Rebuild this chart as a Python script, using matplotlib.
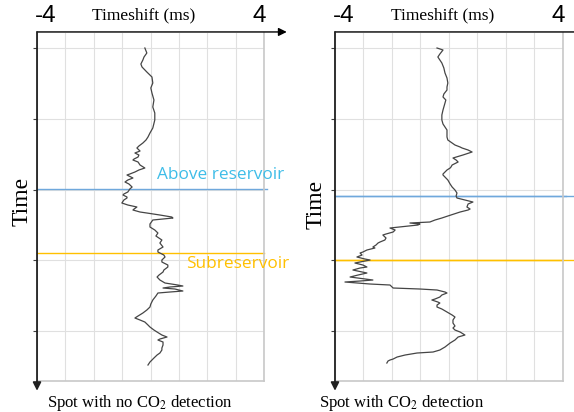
import matplotlib.pyplot as plt

plt.rcParams['mathtext.fontset'] = 'stix'

# timeshift traces (ms) vs. time samples
t_no = [15, 20, 24, 27, 31, 34, 39, 44, 50, 55, 60, 67, 74, 80, 87, 95, 100, 104, 107, 110,
        113, 115, 118, 120, 122, 124, 126, 127, 129, 132, 135, 137, 139, 141, 142, 144, 145, 147,
        149, 151, 154, 156, 159, 161, 162, 164, 165, 167, 170, 172, 174, 176, 177, 179, 180, 182,
        184, 185, 187, 191, 194, 197, 200, 203, 207, 210, 214, 217, 219, 222, 224, 227, 229, 232,
        234, 237, 239, 242, 244, 247, 250, 252, 253, 254, 255, 256, 258, 259, 260, 263, 267, 271,
        274, 277, 280, 283, 285, 287, 289, 292, 294, 297, 299, 302, 304, 306, 307, 309, 312, 315,
        317, 320, 322, 325, 329, 332]
shift_no = [-0.20, -0.13, -0.23, -0.27, -0.34, -0.30, -0.13, 0.05, 0.08, 0.01, 0.05, 0.12, 0.08,
            0.15, 0.15, 0.08, -0.02, -0.09, -0.16, -0.27, -0.41, -0.48, -0.37, -0.55, -0.41, -0.44,
            -0.58, -0.62, -0.44, -0.37, -0.20, -0.41, -0.55, -0.73, -0.83, -0.69, -0.62, -0.80,
            -0.90, -0.76, -0.65, -0.73, -0.80, -0.94, -0.97, -0.83, -0.83, -0.94, -1.01, -0.80,
            -0.48, -0.58, -0.62, -0.37, -0.13, 0.33, 0.75, 0.79, 0.08, -0.02, -0.02, 0.15, 0.26,
            0.19, 0.40, 0.33, 0.44, 0.26, 0.26, 0.47, 0.51, 0.40, 0.40, 0.61, 0.61, 0.47, 0.44,
            0.30, 0.23, 0.33, 0.51, 0.96, 1.14, 0.68, 0.44, 0.86, 1.14, 0.68, 0.26, 0.19, 0.08,
            0.01, -0.02, -0.13, -0.27, -0.44, -0.55, -0.37, -0.20, -0.09, -0.02, 0.12, 0.23, 0.40,
            0.58, 0.33, 0.26, 0.44, 0.44, 0.40, 0.40, 0.33, 0.23, 0.12, -0.02, -0.09]

t_co2 = [15, 17, 21, 24, 27, 30, 35, 40, 45, 50, 54, 57, 61, 64, 67, 70, 74, 77, 82, 87, 91, 94,
         97, 100, 104, 107, 110, 112, 114, 115, 117, 119, 121, 122, 124, 125, 127, 129, 131, 132,
         134, 135, 137, 139, 141, 142, 145, 147, 151, 154, 157, 160, 163, 165, 167, 169, 171, 174,
         176, 177, 179, 180, 183, 185, 187, 189, 190, 191, 192, 194, 195, 197, 199, 201, 202, 205,
         207, 209, 210, 212, 214, 215, 217, 219, 220, 222, 224, 226, 227, 229, 230, 232, 234, 235,
         237, 239, 240, 242, 244, 246, 247, 248, 249, 251, 252, 254, 255, 256, 257, 259, 260, 262,
         264, 266, 267, 269, 270, 272, 274, 276, 279, 282, 284, 287, 290, 293, 295, 297, 299, 302,
         304, 307, 310, 314, 317, 319, 320, 322, 324, 326, 327, 328, 330]
shift_co2 = [-0.42, -0.21, -0.32, -0.39, -0.32, -0.25, -0.18, -0.14, -0.07, -0.04, -0.07, -0.07,
             -0.18, -0.21, -0.11, -0.14, -0.18, -0.21, -0.25, -0.25, -0.21, -0.14, -0.07, -0.07,
             -0.07, -0.04, 0.11, 0.21, 0.39, 0.46, 0.67, 0.81, 0.60, 0.49, 0.25, 0.14, 0.25, 0.32,
             0.18, 0.11, 0.07, 0.04, -0.07, -0.14, -0.21, -0.21, -0.11, -0.04, 0.04, 0.11, 0.21,
             0.28, 0.25, 0.28, 0.56, 0.84, 0.67, 0.63, 0.74, 0.67, 0.39, 0.28, -0.04, -0.25, -0.49,
             -0.67, -1.37, -1.02, -1.09, -1.72, -2.07, -1.89, -1.96, -2.21, -2.32, -2.21, -2.25,
             -2.42, -2.49, -2.56, -2.67, -2.60, -2.88, -3.02, -3.12, -3.05, -3.23, -2.95, -2.77,
             -3.12, -3.30, -3.02, -2.88, -3.12, -3.37, -3.05, -2.88, -3.19, -3.47, -2.95, -2.67,
             -3.12, -3.65, -2.77, -2.07, -2.00, -1.96, -1.02, -0.42, -0.14, -0.07, -0.25, -0.32,
             -0.49, -0.60, -0.39, -0.32, -0.42, -0.42, -0.25, -0.07, 0.11, 0.21, 0.14, 0.14, 0.21,
             0.14, 0.21, 0.39, 0.56, 0.32, 0.21, 0.04, -0.14, -0.32, -0.56, -1.12, -1.54, -1.82,
             -1.96, -2.07, -2.14, -2.18]

x_ticks = [-4, -3, -2, -1, 0, 1, 2, 3, 4]
y_ticks = [15, 86, 157, 227, 298]
t_max = 348

# horizon times per panel
above_no, sub_no = 156, 220
above_co2, sub_co2 = 163, 227

fig = plt.figure(figsize=(5.74, 4.12), dpi=100)
ax1 = fig.add_axes([0.0645, 0.0752, 0.3955, 0.8447])
ax2 = fig.add_axes([0.5836, 0.0752, 0.3972, 0.8447])

serif = 'Liberation Serif'
sans = 'Liberation Sans'
blue_line = '#6FA8DC'
gold = '#FFC000'

for ax, t, s, ta, ts in [(ax1, t_no, shift_no, above_no, sub_no),
                         (ax2, t_co2, shift_co2, above_co2, sub_co2)]:
    ax.set_xlim(-4, 4)
    ax.set_ylim(t_max, 0)
    ax.set_xticks(x_ticks)
    ax.set_yticks(y_ticks)
    ax.set_xticklabels([])
    ax.set_yticklabels([])
    ax.tick_params(axis='x', length=0)
    ax.tick_params(axis='y', length=3, width=0.8, color='#404040', direction='out')
    ax.grid(True, color='#e0e0e0', linewidth=0.8)
    ax.set_axisbelow(True)
    for side in ['left', 'top']:
        ax.spines[side].set_visible(False)
    for side in ['right', 'bottom']:
        ax.spines[side].set_color('#c8c8c8')
        ax.spines[side].set_linewidth(1.2)

    ax.axhline(ta, xmin=0, xmax=1.015, color=blue_line, lw=1.0, clip_on=False, zorder=2)
    ax.axhline(ts, xmin=0, xmax=1.0, color=gold, lw=1.0, clip_on=False, zorder=2)
    ax.plot(s, t, color='#454545', lw=0.9, zorder=3)

    # axis arrows
    ax.annotate('', xy=(1.10, 1.003), xytext=(0, 1.003), xycoords='axes fraction',
                arrowprops=dict(arrowstyle='-|>', color='black', lw=1.0,
                                mutation_scale=12, shrinkA=0, shrinkB=0),
                annotation_clip=False)
    ax.annotate('', xy=(0, -0.028), xytext=(0, 1.003), xycoords='axes fraction',
                arrowprops=dict(arrowstyle='-|>', color='#202020', lw=1.3,
                                mutation_scale=12, shrinkA=0, shrinkB=0),
                annotation_clip=False)

    ax.text(-0.01, 1.048, '-4', transform=ax.transAxes, ha='left', va='center',
            fontsize=17.5, family=sans)
    ax.text(1.01, 1.048, '4', transform=ax.transAxes, ha='right', va='center',
            fontsize=17.5, family=sans)
    ax.text(0.47, 1.05, 'Timeshift (ms)', transform=ax.transAxes, ha='center',
            va='center', fontsize=12.5, family=serif)

ax1.text(0.529, above_no - 14, 'Above reservoir', color='#3EBDE8', fontsize=12.4,
         family='Open Sans', ha='left', va='center', transform=ax1.get_yaxis_transform())
ax1.text(0.656, sub_no + 11, 'Subreservoir', color=gold, fontsize=12.4,
         family='Open Sans', ha='left', va='center', transform=ax1.get_yaxis_transform())

fig.text(22 / 574, 1 - 201 / 412, 'Time', rotation=90, ha='center', va='center',
         fontsize=17, family=serif)
fig.text(316 / 574, 1 - 204 / 412, 'Time', rotation=90, ha='center', va='center',
         fontsize=17, family=serif)
fig.text(140 / 574, 1 - 403 / 412, r'Spot with no CO$_\mathrm{2}$ detection',
         ha='center', va='center', fontsize=12, family=serif)
fig.text(402 / 574, 1 - 403 / 412, r'Spot with CO$_\mathrm{2}$ detection',
         ha='center', va='center', fontsize=12, family=serif)

# right panel horizons run on past the frame
for tt, c in [(above_co2, blue_line), (sub_co2, gold)]:
    ax2.axhline(tt, xmin=0, xmax=1.06, color=c, lw=1.0, clip_on=False, zorder=2)

fig.savefig('out.png', dpi=100)
